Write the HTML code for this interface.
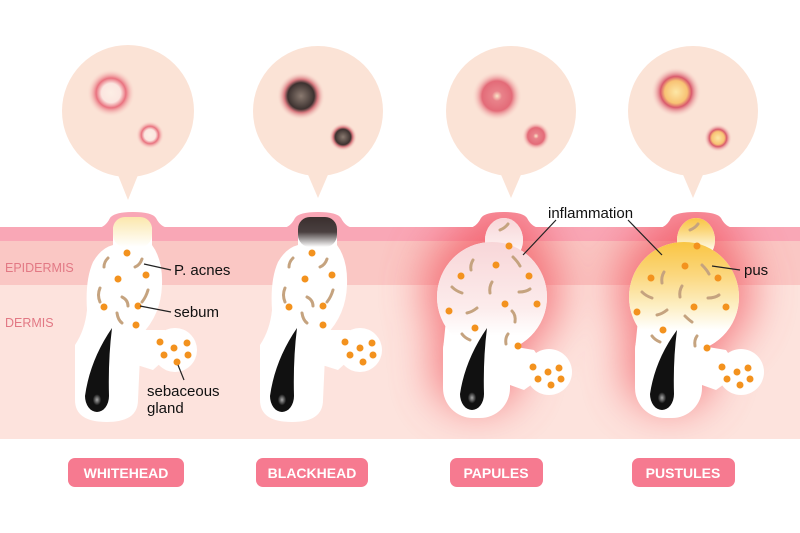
<!DOCTYPE html>
<html><head><meta charset="utf-8"><style>
html,body{margin:0;padding:0;background:#fff;}
svg{display:block;font-family:"Liberation Sans",sans-serif;}
</style></head><body>
<svg width="800" height="533" viewBox="0 0 800 533" xmlns="http://www.w3.org/2000/svg">
<defs>
<radialGradient id="rw"><stop offset="0" stop-color="#fdeee5"/><stop offset="0.4" stop-color="#fbe6e0"/><stop offset="0.62" stop-color="#e9727f"/><stop offset="1" stop-color="#fbe3d6" stop-opacity="0"/></radialGradient>
<radialGradient id="rb"><stop offset="0" stop-color="#8a7a70"/><stop offset="0.55" stop-color="#3d3230"/><stop offset="0.7" stop-color="#d97a80"/><stop offset="1" stop-color="#fbe3d6" stop-opacity="0"/></radialGradient>
<radialGradient id="rp"><stop offset="0" stop-color="#fbe6c8"/><stop offset="0.2" stop-color="#e9828a"/><stop offset="0.6" stop-color="#e36b78"/><stop offset="1" stop-color="#fbe3d6" stop-opacity="0"/></radialGradient>
<radialGradient id="ry"><stop offset="0" stop-color="#fde7a6"/><stop offset="0.45" stop-color="#f8c374"/><stop offset="0.62" stop-color="#d95a6c"/><stop offset="1" stop-color="#fbe3d6" stop-opacity="0"/></radialGradient>
<filter id="blur" x="-80%" y="-80%" width="260%" height="260%"><feGaussianBlur stdDeviation="22"/></filter>
<clipPath id="skin">
<rect x="0" y="227" width="800" height="212"/>
<path d="M468,228 Q476,228 481,218 Q485,212 504,212 Q523,212 527,218 Q532,228 541,228Z"/>
<path d="M658,228 Q666,228 671,218 Q675,212 696,212 Q717,212 721,218 Q726,228 735,228Z"/>
</clipPath>
<linearGradient id="gw" x1="0" y1="0" x2="0" y2="1"><stop offset="0" stop-color="#fbe7ac"/><stop offset="1" stop-color="#fff"/></linearGradient>
<linearGradient id="gb" x1="0" y1="0" x2="0" y2="1"><stop offset="0" stop-color="#3a2f2e"/><stop offset="0.5" stop-color="#4a4040"/><stop offset="1" stop-color="#fff"/></linearGradient>
<linearGradient id="gp" x1="0" y1="0" x2="0" y2="1"><stop offset="0" stop-color="#f8d6d8"/><stop offset="0.6" stop-color="#fcecec"/><stop offset="0.85" stop-color="#fff"/></linearGradient>
<linearGradient id="gy" x1="0" y1="0" x2="0" y2="1"><stop offset="0" stop-color="#f9c543"/><stop offset="0.3" stop-color="#fbd77e"/><stop offset="0.6" stop-color="#fdf0c8"/><stop offset="0.8" stop-color="#fff"/></linearGradient>
<radialGradient id="bulb" cx="0.5" cy="0.55"><stop offset="0" stop-color="#aaa"/><stop offset="0.7" stop-color="#111"/></radialGradient>
</defs>

<g fill="#fbe3d6">
<circle cx="128" cy="111" r="66"/><path d="M116,170 L128,200 L140,170Z"/>
<circle cx="318" cy="111" r="65"/><path d="M306,170 L318,198 L330,170Z"/>
<circle cx="511" cy="111" r="65"/><path d="M499,170 L511,198 L523,170Z"/>
<circle cx="693" cy="111" r="65"/><path d="M681,170 L693,198 L705,170Z"/>
</g>
<circle cx="111" cy="93" r="24" fill="url(#rw)"/><circle cx="150" cy="135" r="14" fill="url(#rw)"/>
<circle cx="301" cy="96" r="24" fill="url(#rb)"/><circle cx="343" cy="137" r="14" fill="url(#rb)"/>
<circle cx="497" cy="96" r="25" fill="url(#rp)"/><circle cx="536" cy="136" r="14" fill="url(#rp)"/>
<circle cx="676" cy="92" r="25" fill="url(#ry)"/><circle cx="718" cy="138" r="14" fill="url(#ry)"/>

<rect x="0" y="285" width="800" height="154" fill="#fde3dd"/>
<rect x="0" y="240" width="800" height="45" fill="#fac7c4"/>
<rect x="0" y="227" width="800" height="14" fill="#f9a7b6"/>
<g fill="#f9a7b6">
<path d="M97,228 Q105,228 110,218 Q114,212 133,212 Q152,212 156,218 Q161,228 170,228Z"/>
<path d="M282,228 Q290,228 295,218 Q299,212 318,212 Q337,212 341,218 Q346,228 355,228Z"/>
<path d="M468,228 Q476,228 481,218 Q485,212 504,212 Q523,212 527,218 Q532,228 541,228Z"/>
<path d="M658,228 Q666,228 671,218 Q675,212 696,212 Q717,212 721,218 Q726,228 735,228Z"/>
</g>
<text x="5" y="272" font-size="12.5" fill="#e27884">EPIDERMIS</text>
<text x="5" y="327" font-size="12.5" fill="#e27884">DERMIS</text>

<g clip-path="url(#skin)">
<g filter="url(#blur)" fill="#f2545f" opacity="0.75">
<circle cx="492" cy="290" r="68"/><ellipse cx="504" cy="222" rx="36" ry="16"/><rect x="434" y="320" width="86" height="88" rx="35"/>
<circle cx="684" cy="290" r="68"/><ellipse cx="696" cy="222" rx="36" ry="16"/><rect x="626" y="320" width="86" height="88" rx="35"/>
</g>
</g>

<g transform="translate(133,0)" fill="#fff">
<path d="M-20,230 Q-20,217 0,217 Q19,217 19,230 L19,245 Q30,260 29,285 Q28,315 8,335 L5,400 Q5,422 -26,422 Q-58,422 -58,400 L-58,345 Q-48,330 -46,310 Q-48,280 -40,262 Q-32,248 -20,245 Z"/>
<polygon points="4,330 32,330 42,350 20,370 4,365"/>
<circle cx="42" cy="350" r="22"/>
</g>
<rect x="113" y="217" width="39" height="30" rx="12" fill="url(#gw)"/>
<g transform="translate(318,0)" fill="#fff">
<path d="M-20,230 Q-20,217 0,217 Q19,217 19,230 L19,245 Q30,260 29,285 Q28,315 8,335 L5,400 Q5,422 -26,422 Q-58,422 -58,400 L-58,345 Q-48,330 -46,310 Q-48,280 -40,262 Q-32,248 -20,245 Z"/>
<polygon points="4,330 32,330 42,350 20,370 4,365"/>
<circle cx="42" cy="350" r="22"/>
</g>
<rect x="298" y="217" width="39" height="30" rx="12" fill="url(#gb)"/>

<g transform="translate(504,0)">
<g fill="#fff">
<ellipse cx="0" cy="240" rx="19" ry="22"/>
<circle cx="-12" cy="297" r="55"/>
<polygon points="-58,320 -61,350 6,350 25,325"/>
<rect x="-61" y="320" width="67" height="98" rx="30"/>
<polygon points="0,345 30,350 45,372 20,390 6,385"/>
<circle cx="45" cy="372" r="23"/>
</g>
<g fill="url(#gp)">
<ellipse cx="0" cy="240" rx="19" ry="22"/>
<circle cx="-12" cy="297" r="55"/>
</g>
</g>
<g transform="translate(696,0)">
<g fill="#fff">
<ellipse cx="0" cy="240" rx="19" ry="22"/>
<circle cx="-12" cy="297" r="55"/>
<polygon points="-58,320 -61,350 6,350 25,325"/>
<rect x="-61" y="320" width="67" height="98" rx="30"/>
<polygon points="0,345 30,350 45,372 20,390 6,385"/>
<circle cx="45" cy="372" r="23"/>
</g>
<g fill="url(#gy)">
<ellipse cx="0" cy="240" rx="19" ry="22"/>
<circle cx="-12" cy="297" r="55"/>
</g>
</g>

<g>
<path d="M112,328 Q108,360 109,396 A12,16 0 1 1 85,396 Q90,360 112,328Z" fill="#111"/>
<ellipse cx="97" cy="399" rx="6" ry="8" fill="url(#bulb)"/>
<path d="M297,328 Q293,360 294,396 A12,16 0 1 1 270,396 Q275,360 297,328Z" fill="#111"/>
<ellipse cx="282" cy="399" rx="6" ry="8" fill="url(#bulb)"/>
<path d="M487,328 Q483,360 484,394 A12,16 0 1 1 460,394 Q465,360 487,328Z" fill="#111"/>
<ellipse cx="472" cy="397" rx="6" ry="8" fill="url(#bulb)"/>
<path d="M677,330 Q673,360 674,394 A12,16 0 1 1 650,394 Q655,360 677,330Z" fill="#111"/>
<ellipse cx="662" cy="397" rx="6" ry="8" fill="url(#bulb)"/>
</g>

<g fill="none" stroke="#c5a37f" stroke-width="3" stroke-linecap="round">
<path d="M108,258 Q104,262 104,267"/><path d="M142,259 Q140,265 135,267"/>
<path d="M100,288 Q97,295 100,302"/><path d="M148,290 Q146,297 142,302"/>
<path d="M122,297 Q128,300 128,306"/><path d="M117,313 Q118,320 122,323"/>
<path d="M293,258 Q289,262 289,267"/><path d="M327,259 Q325,265 320,267"/>
<path d="M285,288 Q282,295 285,302"/><path d="M333,290 Q331,297 327,302"/>
<path d="M307,297 Q313,300 313,306"/><path d="M302,313 Q303,320 307,323"/>
<path d="M500,230 Q505,228 508,224"/><path d="M473,260 Q470,265 471,270"/><path d="M513,257 Q518,262 520,266"/>
<path d="M452,287 Q456,291 462,293"/><path d="M492,282 Q489,287 490,293"/><path d="M519,292 Q526,292 530,289"/>
<path d="M467,313 Q472,312 477,308"/><path d="M512,311 Q516,315 515,322"/><path d="M462,334 Q465,338 470,340"/><path d="M508,334 Q505,338 506,344"/>
<path d="M690,230 Q695,228 698,224"/><path d="M664,272 Q661,277 662,283"/><path d="M702,265 Q707,270 709,274"/>
<path d="M642,292 Q646,296 652,298"/><path d="M682,286 Q679,291 680,297"/><path d="M708,298 Q715,298 719,295"/>
<path d="M657,315 Q662,314 667,310"/><path d="M685,316 Q689,320 692,322"/><path d="M652,336 Q655,340 660,342"/><path d="M697,336 Q694,340 695,346"/>
</g>

<g fill="#f3921e">
<circle cx="127" cy="253" r="3.5"/><circle cx="118" cy="279" r="3.5"/><circle cx="146" cy="275" r="3.5"/><circle cx="104" cy="307" r="3.5"/><circle cx="138" cy="306" r="3.5"/><circle cx="136" cy="325" r="3.5"/>
<circle cx="160" cy="342" r="3.5"/><circle cx="174" cy="348" r="3.5"/><circle cx="187" cy="343" r="3.5"/><circle cx="164" cy="355" r="3.5"/><circle cx="188" cy="355" r="3.5"/><circle cx="177" cy="362" r="3.5"/>
<circle cx="312" cy="253" r="3.5"/><circle cx="305" cy="279" r="3.5"/><circle cx="332" cy="275" r="3.5"/><circle cx="289" cy="307" r="3.5"/><circle cx="323" cy="306" r="3.5"/><circle cx="323" cy="325" r="3.5"/>
<circle cx="345" cy="342" r="3.5"/><circle cx="360" cy="348" r="3.5"/><circle cx="372" cy="343" r="3.5"/><circle cx="350" cy="355" r="3.5"/><circle cx="373" cy="355" r="3.5"/><circle cx="363" cy="362" r="3.5"/>
<circle cx="509" cy="246" r="3.5"/><circle cx="496" cy="265" r="3.5"/><circle cx="461" cy="276" r="3.5"/><circle cx="529" cy="276" r="3.5"/><circle cx="449" cy="311" r="3.5"/><circle cx="505" cy="304" r="3.5"/><circle cx="537" cy="304" r="3.5"/><circle cx="475" cy="328" r="3.5"/><circle cx="518" cy="346" r="3.5"/>
<circle cx="533" cy="367" r="3.5"/><circle cx="548" cy="372" r="3.5"/><circle cx="559" cy="368" r="3.5"/><circle cx="538" cy="379" r="3.5"/><circle cx="561" cy="379" r="3.5"/><circle cx="551" cy="385" r="3.5"/>
<circle cx="697" cy="246" r="3.5"/><circle cx="685" cy="266" r="3.5"/><circle cx="651" cy="278" r="3.5"/><circle cx="718" cy="278" r="3.5"/><circle cx="637" cy="312" r="3.5"/><circle cx="694" cy="307" r="3.5"/><circle cx="726" cy="307" r="3.5"/><circle cx="663" cy="330" r="3.5"/><circle cx="707" cy="348" r="3.5"/>
<circle cx="722" cy="367" r="3.5"/><circle cx="737" cy="372" r="3.5"/><circle cx="748" cy="368" r="3.5"/><circle cx="727" cy="379" r="3.5"/><circle cx="750" cy="379" r="3.5"/><circle cx="740" cy="385" r="3.5"/>
</g>

<g stroke="#222" stroke-width="1.2" fill="none">
<line x1="144" y1="264" x2="171" y2="270"/>
<line x1="140" y1="306" x2="171" y2="312"/>
<line x1="178" y1="365" x2="184" y2="380"/>
<line x1="523" y1="255" x2="556" y2="220"/>
<line x1="662" y1="255" x2="628" y2="220"/>
<line x1="712" y1="266" x2="740" y2="270"/>
</g>
<g font-size="15" fill="#111">
<text x="174" y="275">P. acnes</text>
<text x="174" y="317">sebum</text>
<text x="147" y="396">sebaceous</text>
<text x="147" y="413">gland</text>
<text x="548" y="218">inflammation</text>
<text x="744" y="275">pus</text>
</g>

<g fill="#f67a90">
<rect x="68" y="458" width="116" height="29" rx="7"/>
<rect x="256" y="458" width="112" height="29" rx="7"/>
<rect x="450" y="458" width="93" height="29" rx="7"/>
<rect x="632" y="458" width="103" height="29" rx="7"/>
</g>
<g font-size="14" font-weight="bold" fill="#fff" text-anchor="middle">
<text x="126" y="478">WHITEHEAD</text>
<text x="312" y="478">BLACKHEAD</text>
<text x="496" y="478">PAPULES</text>
<text x="683" y="478">PUSTULES</text>
</g>
</svg>
</body></html>
